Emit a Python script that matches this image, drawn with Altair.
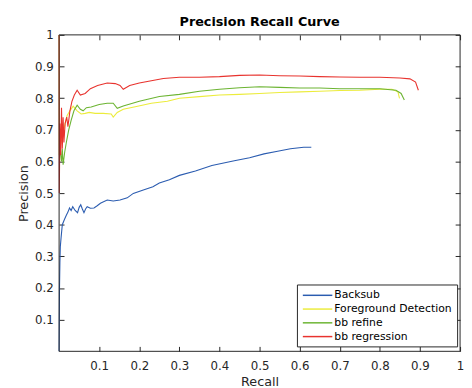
import altair as alt
import pandas as pd

series_names = ["Backsub", "Foreground Detection", "bb refine", "bb regression"]
series_colors = ["#2b5cb0", "#ecec3c", "#6cb432", "#e8332e"]

backsub_recall = [0, 0.0005, 0.001, 0.002, 0.003, 0.005, 0.008, 0.013, 0.018, 0.022, 0.026, 0.03, 0.034, 0.04,
                  0.046, 0.05, 0.054, 0.058, 0.062, 0.066, 0.07, 0.078, 0.087, 0.095, 0.103, 0.12, 0.135, 0.152,
                  0.17, 0.185, 0.21, 0.234, 0.25, 0.275, 0.3, 0.34, 0.381, 0.437, 0.475, 0.511, 0.545, 0.577,
                  0.61, 0.629]
backsub_precision = [0, 0.1, 0.2, 0.28, 0.33, 0.36, 0.40, 0.416, 0.43, 0.44, 0.453, 0.445, 0.457, 0.445,
                     0.438, 0.455, 0.463, 0.45, 0.438, 0.45, 0.457, 0.452, 0.453, 0.46, 0.468, 0.478, 0.475, 0.478,
                     0.485, 0.499, 0.51, 0.52, 0.532, 0.542, 0.556, 0.57, 0.587, 0.602, 0.612, 0.624, 0.632, 0.640,
                     0.645, 0.645]

fg_recall = [0, 0.0005, 0.002, 0.005, 0.01, 0.015, 0.02, 0.027, 0.035, 0.045, 0.055, 0.065, 0.075, 0.09, 0.11,
             0.13, 0.135, 0.145, 0.16, 0.19, 0.23, 0.27, 0.3, 0.35, 0.4, 0.45, 0.5, 0.55, 0.6, 0.65, 0.7, 0.75,
             0.8, 0.83, 0.845, 0.849]
fg_precision = [1, 0.62, 0.64, 0.66, 0.69, 0.72, 0.745, 0.76, 0.775, 0.76, 0.75, 0.752, 0.755, 0.752, 0.752,
                0.75, 0.74, 0.755, 0.765, 0.773, 0.784, 0.79, 0.8, 0.805, 0.81, 0.812, 0.815, 0.818, 0.82, 0.822,
                0.824, 0.825, 0.828, 0.828, 0.82, 0.799]

refine_recall = [0.002, 0.004, 0.006, 0.008, 0.01, 0.014, 0.018, 0.024, 0.03, 0.037, 0.045, 0.053, 0.06, 0.068,
                 0.08, 0.1, 0.12, 0.135, 0.145, 0.16, 0.2, 0.25, 0.3, 0.35, 0.4, 0.45, 0.5, 0.55, 0.6, 0.65, 0.7,
                 0.75, 0.8, 0.84, 0.853, 0.861]
refine_precision = [0.68, 0.62, 0.6, 0.64, 0.59, 0.63, 0.66, 0.7, 0.73, 0.76, 0.778, 0.765, 0.76, 0.77,
                    0.772, 0.78, 0.784, 0.784, 0.768, 0.775, 0.79, 0.805, 0.812, 0.822, 0.828, 0.833, 0.836,
                    0.834, 0.832, 0.832, 0.83, 0.83, 0.83, 0.825, 0.815, 0.794]

regr_recall = [0, 0.0005, 0.002, 0.004, 0.006, 0.008, 0.01, 0.012, 0.015, 0.019, 0.022, 0.027, 0.032, 0.038,
               0.045, 0.053, 0.065, 0.078, 0.096, 0.12, 0.14, 0.152, 0.16, 0.176, 0.2, 0.23, 0.26, 0.3, 0.35,
               0.4, 0.45, 0.5, 0.55, 0.6, 0.65, 0.7, 0.75, 0.8, 0.85, 0.875, 0.889, 0.896]
regr_precision = [1, 0.5, 0.72, 0.62, 0.77, 0.64, 0.74, 0.66, 0.72, 0.74, 0.71, 0.76, 0.79, 0.81,
                  0.825, 0.81, 0.815, 0.83, 0.84, 0.848, 0.846, 0.84, 0.828, 0.84, 0.848, 0.855, 0.862, 0.866,
                  0.866, 0.868, 0.872, 0.873, 0.871, 0.87, 0.868, 0.867, 0.866, 0.866, 0.864, 0.861, 0.851, 0.825]

tick_values = [0.1, 0.2, 0.3, 0.4, 0.5, 0.6, 0.7, 0.8, 0.9, 1.0]

rows = []
for name, rec, prec in zip(series_names,
                           [backsub_recall, fg_recall, refine_recall, regr_recall],
                           [backsub_precision, fg_precision, refine_precision, regr_precision]):
    for i, (r, p) in enumerate(zip(rec, prec)):
        rows.append({"series": name, "recall": r, "precision": p, "idx": i})
df = pd.DataFrame(rows)

W, H = 408, 322
FONT = "DejaVu Sans"
LABEL_EXPR = "datum.value == 1 ? '1' : format(datum.value, '.1f')"

xscale = alt.Scale(domain=[0, 1], nice=False, zero=False)
yscale = alt.Scale(domain=[0, 1], nice=False, zero=False)

lines = alt.Chart(df).mark_line(strokeWidth=1.1).encode(
    x=alt.X("recall:Q", scale=xscale, title="Recall",
            axis=alt.Axis(values=tick_values, offset=-5, tickSize=5, domain=False, grid=False,
                          labelPadding=9, titlePadding=5, labelFontSize=12, titleFontSize=13,
                          labelExpr=LABEL_EXPR, labelFlush=False)),
    y=alt.Y("precision:Q", scale=yscale, title="Precision",
            axis=alt.Axis(values=tick_values, offset=-5, tickSize=5, domain=False, grid=False,
                          labelPadding=6, titlePadding=4, labelFontSize=12, titleFontSize=13,
                          labelExpr=LABEL_EXPR, labelFlush=False)),
    color=alt.Color("series:N", scale=alt.Scale(domain=series_names, range=series_colors),
                    legend=alt.Legend(title=None, orient="none", legendX=242, legendY=254,
                                      symbolType="M-3,0H3", symbolSize=100, symbolStrokeWidth=1.5,
                                      labelFontSize=11, labelFont=FONT, padding=5, rowPadding=3,
                                      strokeColor="#262626", fillColor="white", labelOffset=11,
                                      labelColor="#000000", symbolOffset=10)),
    detail="series:N",
    order="idx:Q",
)

frame = alt.Chart(df).mark_point(opacity=0).encode(
    x=alt.X("recall:Q", scale=xscale,
            axis=alt.Axis(orient="top", values=tick_values, offset=-5, tickSize=5, domain=False,
                          grid=False, labels=False, title=None)),
    y=alt.Y("precision:Q", scale=yscale,
            axis=alt.Axis(orient="right", values=tick_values, offset=-5, tickSize=5, domain=False,
                          grid=False, labels=False, title=None)),
)

box = alt.Chart(pd.DataFrame({"k": [0]})).mark_rect(fill=None, stroke="#262626", strokeWidth=1).encode(
    x=alt.value(0), x2=alt.value(W), y=alt.value(0), y2=alt.value(H)
)

chart = alt.layer(frame, lines, box).resolve_axis(x="independent", y="independent").properties(
    width=W, height=H,
    title=alt.TitleParams("Precision Recall Curve", fontSize=13, fontWeight="bold", font=FONT,
                          offset=0, color="#000000"),
    autosize=alt.AutoSizeParams(type="none"),
    padding={"left": 52, "top": 24, "right": 4, "bottom": 36},
    background="white",
).configure_view(stroke=None).configure_axis(
    labelFont=FONT, titleFont=FONT, titleFontWeight="normal", titleColor="#262626",
    labelColor="#262626", tickColor="#262626", tickWidth=1
)

chart.save("out.html", embed_options={"renderer": "svg", "actions": False})
